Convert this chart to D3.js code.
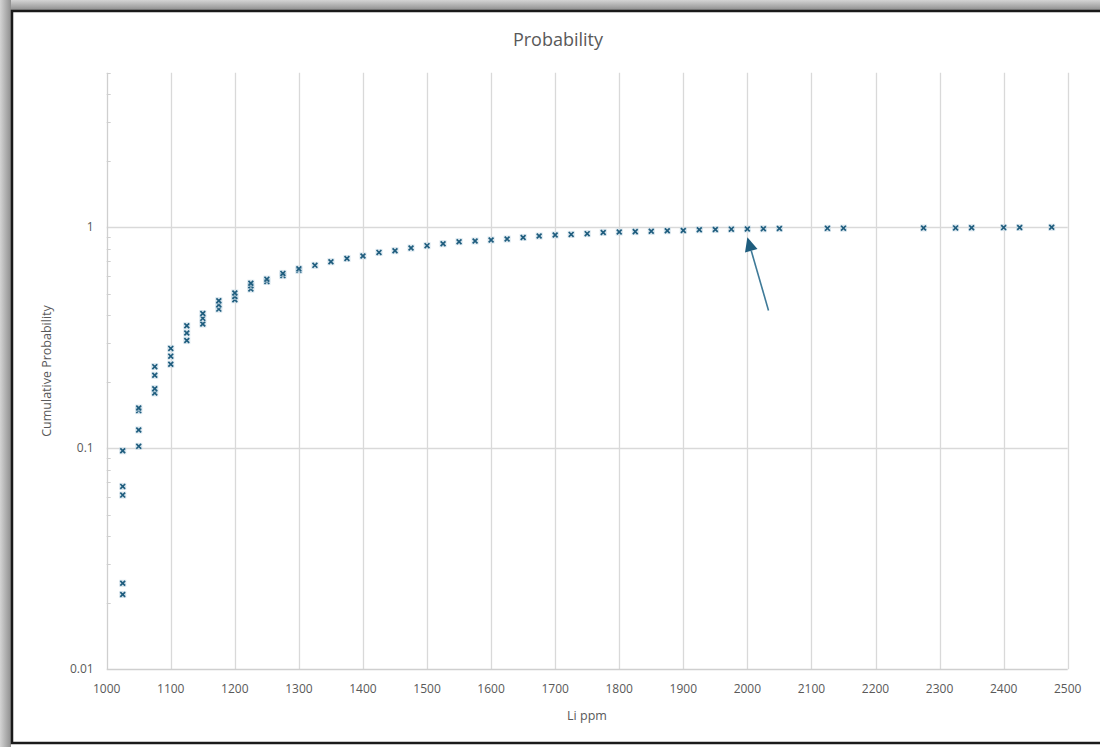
<!DOCTYPE html>
<html>
<head>
<meta charset="utf-8">
<script src="https://cdn.jsdelivr.net/npm/d3@7"></script>
<style>
  html, body { margin: 0; padding: 0; background: #ffffff; }
  svg { display: block; }
  text { font-family: "Open Sans", "Noto Sans", sans-serif; fill: #595959; }
</style>
</head>
<body>
<svg id="chart" width="1100" height="747"></svg>
<script>
// Li concentration (ppm) of each sample and its cumulative probability
const liPpm = [
  1025, 1025, 1025, 1025, 1025,
  1050, 1050, 1050, 1050,
  1075, 1075, 1075, 1075,
  1100, 1100, 1100,
  1125, 1125, 1125,
  1150, 1150, 1150,
  1175, 1175, 1175,
  1200, 1200, 1200,
  1225, 1225, 1225,
  1250, 1250,
  1275, 1275,
  1300, 1300,
  1325, 1350, 1375, 1400, 1425, 1450, 1475, 1500,
  1525, 1550, 1575, 1600, 1625, 1650, 1675, 1700,
  1725, 1750, 1775, 1800, 1825, 1850, 1875, 1900,
  1925, 1950, 1975, 2000, 2025, 2050,
  2125, 2150, 2275, 2325, 2350, 2400, 2425, 2475
];
const cumProb = [
  0.0218, 0.0245, 0.0614, 0.0672, 0.0974,
  0.102, 0.121, 0.148, 0.152,
  0.178, 0.186, 0.214, 0.234,
  0.240, 0.261, 0.283,
  0.307, 0.332, 0.358,
  0.365, 0.387, 0.407,
  0.426, 0.446, 0.465,
  0.470, 0.486, 0.504,
  0.525, 0.544, 0.558,
  0.568, 0.582,
  0.604, 0.618,
  0.638, 0.648,
  0.672, 0.698, 0.722, 0.741, 0.769, 0.783, 0.805, 0.825,
  0.842, 0.860, 0.866, 0.875, 0.884, 0.899, 0.912, 0.922,
  0.928, 0.935, 0.947, 0.951, 0.955, 0.958, 0.964, 0.967,
  0.974, 0.976, 0.980, 0.982, 0.984, 0.986,
  0.988, 0.990, 0.992, 0.993, 0.994, 0.996, 0.997, 0.999
];

// Axis ticks
const xTicks = [1000, 1100, 1200, 1300, 1400, 1500, 1600, 1700, 1800, 1900,
                2000, 2100, 2200, 2300, 2400, 2500];
const yMajorTicks = [0.01, 0.1, 1];
const yTickLabels = ["0.01", "0.1", "1"];
const yMinorTicks = [0.02, 0.03, 0.04, 0.05, 0.06, 0.07, 0.08, 0.09,
                     0.2, 0.3, 0.4, 0.5, 0.6, 0.7, 0.8, 0.9,
                     2, 3, 4, 5];

// Callout arrow (tail -> head) in data units
const arrowX = [2033, 2000];
const arrowP = [0.42, 0.90];

const markColor = "#1f5d7e";
const gridColor = "#d9d9d9";

const svg = d3.select("#chart");

// Window frame: soft grey shadow with a dark border around the white chart area
const defs = svg.append("defs");
const gTop = defs.append("linearGradient").attr("id", "shadeTop")
  .attr("x1", 0).attr("y1", 0).attr("x2", 0).attr("y2", 1);
gTop.append("stop").attr("offset", "0%").attr("stop-color", "#d4d4d4");
gTop.append("stop").attr("offset", "100%").attr("stop-color", "#8f8f8f");
const gLeft = defs.append("linearGradient").attr("id", "shadeLeft")
  .attr("x1", 0).attr("y1", 0).attr("x2", 1).attr("y2", 0);
gLeft.append("stop").attr("offset", "0%").attr("stop-color", "#d4d4d4");
gLeft.append("stop").attr("offset", "100%").attr("stop-color", "#8f8f8f");

svg.append("rect").attr("x", 0).attr("y", 0).attr("width", 1100).attr("height", 10)
  .attr("fill", "url(#shadeTop)");
svg.append("rect").attr("x", 0).attr("y", 0).attr("width", 11).attr("height", 747)
  .attr("fill", "url(#shadeLeft)");
svg.append("rect").attr("x", 12).attr("y", 11).attr("width", 1095).attr("height", 732)
  .attr("fill", "#ffffff").attr("stroke", "#1a1a1a").attr("stroke-width", 2.5);

// Scales
const x = d3.scaleLinear().domain([1000, 2500]).range([106.7, 1067.7]);
const y = d3.scaleLog().domain([0.01, 5]).range([669.3, 72.7]);

const plot = svg.append("g");

// Vertical gridlines
plot.append("g").selectAll("line").data(xTicks.slice(1)).join("line")
  .attr("x1", d => Math.round(x(d)) + 0.5).attr("x2", d => Math.round(x(d)) + 0.5)
  .attr("y1", y(5)).attr("y2", y(0.01))
  .attr("stroke", gridColor).attr("stroke-width", 1.3);

// Horizontal gridlines
plot.append("g").selectAll("line").data(yMajorTicks.slice(1)).join("line")
  .attr("x1", x(1000)).attr("x2", x(2500))
  .attr("y1", d => Math.round(y(d)) + 0.5).attr("y2", d => Math.round(y(d)) + 0.5)
  .attr("stroke", gridColor).attr("stroke-width", 1.3);

// Bottom (x) axis line
plot.append("line")
  .attr("x1", x(1000)).attr("x2", x(2500))
  .attr("y1", Math.round(y(0.01)) + 0.5).attr("y2", Math.round(y(0.01)) + 0.5)
  .attr("stroke", "#cfcfcf").attr("stroke-width", 1.3);

// Left (y) axis line and inside minor ticks
plot.append("line")
  .attr("x1", Math.round(x(1000)) + 0.5).attr("x2", Math.round(x(1000)) + 0.5)
  .attr("y1", y(5)).attr("y2", y(0.01))
  .attr("stroke", "#cfcfcf").attr("stroke-width", 1.3);
plot.append("g").selectAll("line").data(yMinorTicks).join("line")
  .attr("x1", x(1000)).attr("x2", x(1000) + 4)
  .attr("y1", d => Math.round(y(d)) + 0.5).attr("y2", d => Math.round(y(d)) + 0.5)
  .attr("stroke", "#cfcfcf").attr("stroke-width", 1);

// Tick labels
plot.append("g").selectAll("text").data(xTicks).join("text")
  .attr("x", d => x(d)).attr("y", y(0.01) + 24)
  .attr("text-anchor", "middle").attr("font-size", 12)
  .text(d => d);
plot.append("g").selectAll("text").data(yMajorTicks).join("text")
  .attr("x", x(1000) - 13).attr("y", d => y(d) + 4)
  .attr("text-anchor", "end").attr("font-size", 12)
  .text((d, i) => yTickLabels[i]);

// Titles
svg.append("text").attr("x", 558).attr("y", 46)
  .attr("text-anchor", "middle").attr("font-size", 18)
  .text("Probability");
svg.append("text").attr("x", 587).attr("y", 720)
  .attr("text-anchor", "middle").attr("font-size", 12.5)
  .text("Li ppm");
svg.append("text")
  .attr("transform", "translate(51,371) rotate(-90)")
  .attr("text-anchor", "middle").attr("font-size", 12.5)
  .text("Cumulative Probability");

// Data markers ("x" symbols)
const pts = liPpm.map((v, i) => ({ v, p: cumProb[i] }));
const marks = plot.append("g").selectAll("g").data(pts).join("g")
  .attr("transform", d => `translate(${x(d.v)},${y(d.p)})`);
marks.append("rect")
  .attr("x", -3.5).attr("y", -3.5).attr("width", 7).attr("height", 7)
  .attr("fill", "#c9dce7").attr("opacity", 0.7);
marks.append("path")
  .attr("d", "M-2.4,-2.4L2.4,2.4M-2.4,2.4L2.4,-2.4")
  .attr("stroke", markColor).attr("stroke-width", 1.7).attr("fill", "none");

// Callout arrow
const ax0 = x(arrowX[0]), ay0 = y(arrowP[0]);
const ax1 = x(arrowX[1]), ay1 = y(arrowP[1]);
const ang = Math.atan2(ay1 - ay0, ax1 - ax0);
const headLen = 14, headHalf = 6.5;
const bx = ax1 - headLen * Math.cos(ang), by = ay1 - headLen * Math.sin(ang);
svg.append("line")
  .attr("x1", ax0).attr("y1", ay0).attr("x2", bx).attr("y2", by)
  .attr("stroke", "#3f7a98").attr("stroke-width", 1.6);
svg.append("path")
  .attr("d", `M${ax1},${ay1}` +
             `L${bx + headHalf * Math.sin(ang)},${by - headHalf * Math.cos(ang)}` +
             `L${bx - headHalf * Math.sin(ang)},${by + headHalf * Math.cos(ang)}Z`)
  .attr("fill", markColor);
</script>
</body>
</html>
